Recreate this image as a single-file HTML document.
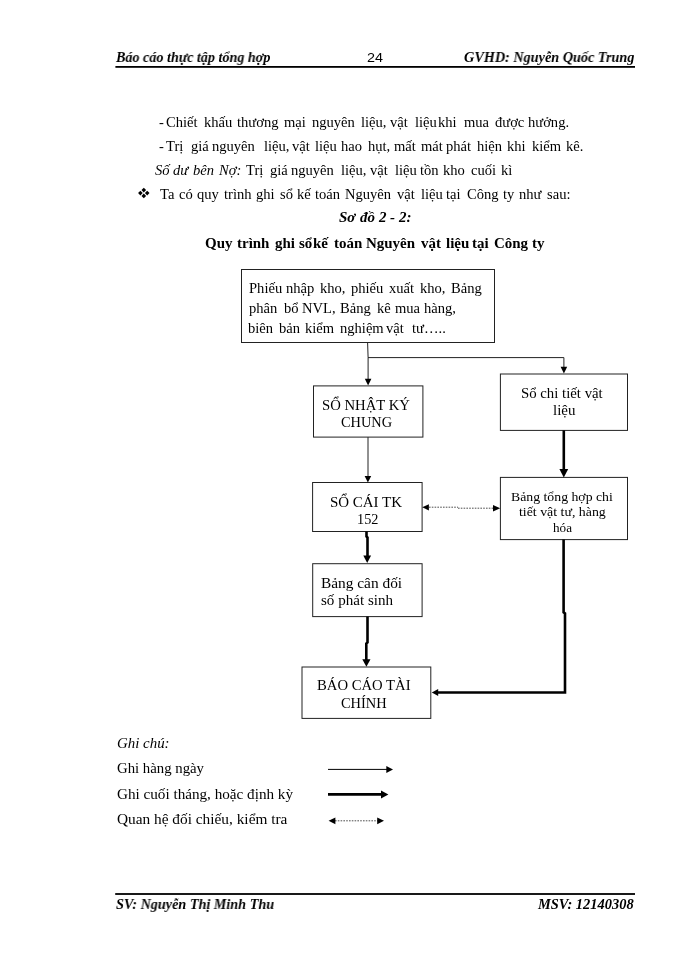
<!DOCTYPE html>
<html lang="vi"><head><meta charset="utf-8"><title>Báo cáo thực tập tổng hợp</title>
<style>
html,body{margin:0;padding:0;background:#fff;}
body{width:700px;height:960px;position:relative;overflow:hidden;color:#000;font-family:"Liberation Serif",serif;}
.t{position:absolute;transform-origin:0 0;will-change:transform;white-space:pre;line-height:24px;height:24px;color:#000;}
svg{position:absolute;left:0;top:0;}
</style></head><body>
<svg width="700" height="960" viewBox="0 0 700 960">
<!-- header / footer rules -->
<rect x="115.4" y="66" width="519.6" height="1.8" fill="#000"/>
<rect x="115.2" y="893.1" width="519.8" height="1.8" fill="#000"/>
<g fill="none" stroke="#222" stroke-width="1">
<!-- boxes -->
<rect x="241.5" y="269.5" width="253" height="73"/>
<rect x="313.5" y="385.9" width="109.4" height="51.2"/>
<rect x="500.4" y="374" width="127.1" height="56.4"/>
<rect x="312.6" y="482.5" width="109.5" height="49"/>
<rect x="500.4" y="477.4" width="127.1" height="62.2"/>
<rect x="312.7" y="563.7" width="109.4" height="52.9"/>
<rect x="302" y="667" width="128.8" height="51.4"/>
<!-- thin connectors -->
<path d="M367.6 342.5 L368.1 357.5 V380"/>
<path d="M368 357.6 H563.9 V368"/>
<path d="M368 437.1 V477"/>
</g>
<!-- thin arrowheads -->
<g fill="#000">
<path d="M364.8 378.8 h6.6 l-3.3 6.8z"/>
<path d="M560.6 366.7 h6.6 l-3.3 6.8z"/>
<path d="M364.6 476 h6.6 l-3.3 6.6z"/>
</g>
<!-- thick connectors -->
<g fill="none" stroke="#000" stroke-width="2.6">
<path d="M563.8 430.4 V470"/>
<path d="M366.5 531.5 V536.5 L367.5 537.5 V557"/>
<path d="M367.5 616.6 V642.5 L366.3 643.5 V660"/>
<path d="M563.6 539.6 V612.4 L565 613.4 V692.5 H437"/>
</g>
<g fill="#000">
<path d="M559.4 469.1 h8.8 l-4.4 8.3z"/>
<path d="M363.3 555.6 h7.8 l-3.9 7.5z"/>
<path d="M362.3 659.3 h8.2 l-4.1 7.4z"/>
<path d="M438.2 689 v7 l-6.4 -3.5z"/>
</g>
<!-- dotted double arrow -->
<path d="M429 507.2 H458 M458 508.2 H493" stroke="#222" stroke-opacity="0.8" stroke-width="1" stroke-dasharray="1.6 1.2" fill="none"/>
<g fill="#000">
<path d="M428.9 504.2 v6.2 l-6.7 -3.1z"/>
<path d="M493 505 v6.4 l7.2 -3.2z"/>
</g>
<!-- legend arrows -->
<path d="M328 769.4 H387" stroke="#000" stroke-width="1" fill="none"/>
<path d="M386.3 765.9 v7 l6.7 -3.5z" fill="#000"/>
<path d="M328 794.4 H382" stroke="#000" stroke-width="2.6" fill="none"/>
<path d="M381 790.5 v8 l7.4 -4z" fill="#000"/>
<path d="M335 820.8 H378" stroke="#222" stroke-opacity="0.8" stroke-width="1" stroke-dasharray="1.6 1.2" fill="none"/>
<path d="M335.4 817.4 v6.8 l-6.8 -3.4z" fill="#000"/>
<path d="M377.2 817.4 v6.8 l6.8 -3.4z" fill="#000"/>
<!-- bullet -->
<g fill="#000">
<path d="M143.8 187.8 l2.3 2.3 l-2.3 2.3 l-2.3 -2.3z"/>
<path d="M143.8 193.6 l2.3 2.3 l-2.3 2.3 l-2.3 -2.3z"/>
<path d="M140.4 190.8 l2.3 2.3 l-2.3 2.3 l-2.3 -2.3z"/>
<path d="M147.2 190.8 l2.3 2.3 l-2.3 2.3 l-2.3 -2.3z"/>
</g>
</svg>

<div class="t" style='left:116.3px;top:45.00px;font-family:"Liberation Serif", serif;font-size:14.4px;font-weight:bold;font-style:italic;letter-spacing:0.000px;word-spacing:0.000px;transform:scaleX(0.9805);'>Báo cáo thực tập tổng hợp</div>
<div class="t" style='left:367.0px;top:46.00px;font-family:"Liberation Sans", sans-serif;font-size:13.5px;letter-spacing:0.000px;transform:scaleX(1.0644);'>24</div>
<div class="t" style='left:464.4px;top:45.00px;font-family:"Liberation Serif", serif;font-size:14.4px;font-weight:bold;font-style:italic;letter-spacing:0.000px;word-spacing:0.000px;transform:scaleX(0.9880);'>GVHD: Nguyễn Quốc Trung</div>
<div class="t" style='left:322.0px;top:394.00px;font-family:"Liberation Serif", serif;font-size:14px;letter-spacing:0.000px;word-spacing:0.000px;transform:scaleX(1.0507);'>SỔ NHẬT KÝ</div>
<div class="t" style='left:341.0px;top:411.00px;font-family:"Liberation Serif", serif;font-size:14px;letter-spacing:0.000px;transform:scaleX(1.0245);'>CHUNG</div>
<div class="t" style='left:520.8px;top:382.00px;font-family:"Liberation Serif", serif;font-size:14px;letter-spacing:0.000px;word-spacing:0.000px;transform:scaleX(1.0557);'>Sổ chi tiết vật</div>
<div class="t" style='left:552.6px;top:399.00px;font-family:"Liberation Serif", serif;font-size:14px;letter-spacing:0.000px;transform:scaleX(1.0667);'>liệu</div>
<div class="t" style='left:330.0px;top:491.00px;font-family:"Liberation Serif", serif;font-size:14px;letter-spacing:0.000px;word-spacing:0.000px;transform:scaleX(1.0679);'>SỔ CÁI TK</div>
<div class="t" style='left:357.0px;top:508.00px;font-family:"Liberation Serif", serif;font-size:14px;letter-spacing:0.000px;transform:scaleX(1.0190);'>152</div>
<div class="t" style='left:511.2px;top:485.00px;font-family:"Liberation Serif", serif;font-size:13px;letter-spacing:-0.000px;word-spacing:-0.000px;transform:scaleX(1.0597);'>Bảng tổng hợp chi</div>
<div class="t" style='left:519.4px;top:500.00px;font-family:"Liberation Serif", serif;font-size:13px;letter-spacing:0.000px;word-spacing:0.000px;transform:scaleX(1.0661);'>tiết vật tư, hàng</div>
<div class="t" style='left:553.0px;top:516.00px;font-family:"Liberation Serif", serif;font-size:13px;letter-spacing:0.000px;transform:scaleX(1.0116);'>hóa</div>
<div class="t" style='left:320.9px;top:572.00px;font-family:"Liberation Serif", serif;font-size:14px;letter-spacing:0.000px;word-spacing:0.000px;transform:scaleX(1.0978);'>Bảng cân đối</div>
<div class="t" style='left:321.3px;top:589.00px;font-family:"Liberation Serif", serif;font-size:14px;letter-spacing:0.000px;word-spacing:0.000px;transform:scaleX(1.0764);'>số phát sinh</div>
<div class="t" style='left:317.2px;top:674.00px;font-family:"Liberation Serif", serif;font-size:14px;letter-spacing:0.000px;word-spacing:0.000px;transform:scaleX(1.0493);'>BÁO CÁO TÀI</div>
<div class="t" style='left:341.3px;top:692.00px;font-family:"Liberation Serif", serif;font-size:14px;letter-spacing:0.000px;transform:scaleX(1.0306);'>CHÍNH</div>
<div class="t" style='left:116.9px;top:732.00px;font-family:"Liberation Serif", serif;font-size:14px;font-style:italic;letter-spacing:0.000px;word-spacing:0.000px;transform:scaleX(1.0650);'>Ghi chú:</div>
<div class="t" style='left:117.0px;top:757.00px;font-family:"Liberation Serif", serif;font-size:14px;letter-spacing:0.000px;word-spacing:0.000px;transform:scaleX(1.0553);'>Ghi hàng ngày</div>
<div class="t" style='left:117.0px;top:783.00px;font-family:"Liberation Serif", serif;font-size:14px;letter-spacing:-0.000px;word-spacing:-0.000px;transform:scaleX(1.0829);'>Ghi cuối tháng, hoặc định kỳ</div>
<div class="t" style='left:117.0px;top:808.00px;font-family:"Liberation Serif", serif;font-size:14px;letter-spacing:0.000px;word-spacing:0.000px;transform:scaleX(1.0957);'>Quan hệ đối chiếu, kiểm tra</div>
<div class="t" style='left:116.3px;top:892.00px;font-family:"Liberation Serif", serif;font-size:14.4px;font-weight:bold;font-style:italic;letter-spacing:0.000px;word-spacing:0.000px;transform:scaleX(0.9851);'>SV: Nguyễn Thị Minh Thu</div>
<div class="t" style='left:538.0px;top:892.00px;font-family:"Liberation Serif", serif;font-size:14.4px;font-weight:bold;font-style:italic;letter-spacing:0.000px;word-spacing:0.000px;transform:scaleX(1.0033);'>MSV: 12140308</div>
<div class="t" style='left:159.2px;top:111.00px;font-family:"Liberation Serif", serif;font-size:14px;transform:scaleX(1.0400);'>-</div>
<div class="t" style='left:165.7px;top:111.00px;font-family:"Liberation Serif", serif;font-size:14px;transform:scaleX(1.0400);'>Chiết</div>
<div class="t" style='left:204.3px;top:111.00px;font-family:"Liberation Serif", serif;font-size:14px;transform:scaleX(1.0400);'>khấu</div>
<div class="t" style='left:237.3px;top:111.00px;font-family:"Liberation Serif", serif;font-size:14px;transform:scaleX(1.0400);'>thương</div>
<div class="t" style='left:283.8px;top:111.00px;font-family:"Liberation Serif", serif;font-size:14px;transform:scaleX(1.0400);'>mại</div>
<div class="t" style='left:311.8px;top:111.00px;font-family:"Liberation Serif", serif;font-size:14px;transform:scaleX(1.0400);'>nguyên</div>
<div class="t" style='left:361.4px;top:111.00px;font-family:"Liberation Serif", serif;font-size:14px;transform:scaleX(1.0400);'>liệu,</div>
<div class="t" style='left:390.2px;top:111.00px;font-family:"Liberation Serif", serif;font-size:14px;transform:scaleX(1.0400);'>vật</div>
<div class="t" style='left:415.3px;top:111.00px;font-family:"Liberation Serif", serif;font-size:14px;transform:scaleX(1.0400);'>liệu</div>
<div class="t" style='left:438.1px;top:111.00px;font-family:"Liberation Serif", serif;font-size:14px;transform:scaleX(1.0400);'>khi</div>
<div class="t" style='left:464.1px;top:111.00px;font-family:"Liberation Serif", serif;font-size:14px;transform:scaleX(1.0400);'>mua</div>
<div class="t" style='left:495.1px;top:111.00px;font-family:"Liberation Serif", serif;font-size:14px;transform:scaleX(1.0400);'>được</div>
<div class="t" style='left:527.9px;top:111.00px;font-family:"Liberation Serif", serif;font-size:14px;transform:scaleX(1.0400);'>hưởng.</div>
<div class="t" style='left:159.2px;top:135.00px;font-family:"Liberation Serif", serif;font-size:14px;transform:scaleX(1.0400);'>-</div>
<div class="t" style='left:166.4px;top:135.00px;font-family:"Liberation Serif", serif;font-size:14px;transform:scaleX(1.0400);'>Trị</div>
<div class="t" style='left:191.1px;top:135.00px;font-family:"Liberation Serif", serif;font-size:14px;transform:scaleX(1.0400);'>giá</div>
<div class="t" style='left:211.7px;top:135.00px;font-family:"Liberation Serif", serif;font-size:14px;transform:scaleX(1.0400);'>nguyên</div>
<div class="t" style='left:263.9px;top:135.00px;font-family:"Liberation Serif", serif;font-size:14px;transform:scaleX(1.0400);'>liệu,</div>
<div class="t" style='left:291.6px;top:135.00px;font-family:"Liberation Serif", serif;font-size:14px;transform:scaleX(1.0400);'>vật</div>
<div class="t" style='left:315.3px;top:135.00px;font-family:"Liberation Serif", serif;font-size:14px;transform:scaleX(1.0400);'>liệu</div>
<div class="t" style='left:341.3px;top:135.00px;font-family:"Liberation Serif", serif;font-size:14px;transform:scaleX(1.0400);'>hao</div>
<div class="t" style='left:367.6px;top:135.00px;font-family:"Liberation Serif", serif;font-size:14px;transform:scaleX(1.0400);'>hụt,</div>
<div class="t" style='left:394.1px;top:135.00px;font-family:"Liberation Serif", serif;font-size:14px;transform:scaleX(1.0400);'>mất</div>
<div class="t" style='left:421.3px;top:135.00px;font-family:"Liberation Serif", serif;font-size:14px;transform:scaleX(1.0400);'>mát</div>
<div class="t" style='left:446.2px;top:135.00px;font-family:"Liberation Serif", serif;font-size:14px;transform:scaleX(1.0400);'>phát</div>
<div class="t" style='left:477.2px;top:135.00px;font-family:"Liberation Serif", serif;font-size:14px;transform:scaleX(1.0400);'>hiện</div>
<div class="t" style='left:506.9px;top:135.00px;font-family:"Liberation Serif", serif;font-size:14px;transform:scaleX(1.0400);'>khi</div>
<div class="t" style='left:532.0px;top:135.00px;font-family:"Liberation Serif", serif;font-size:14px;transform:scaleX(1.0400);'>kiểm</div>
<div class="t" style='left:565.8px;top:135.00px;font-family:"Liberation Serif", serif;font-size:14px;transform:scaleX(1.0400);'>kê.</div>
<div class="t" style='left:155.0px;top:159.00px;font-family:"Liberation Serif", serif;font-size:14px;font-style:italic;transform:scaleX(1.0400);'>Số</div>
<div class="t" style='left:172.9px;top:159.00px;font-family:"Liberation Serif", serif;font-size:14px;font-style:italic;transform:scaleX(1.0400);'>dư</div>
<div class="t" style='left:192.9px;top:159.00px;font-family:"Liberation Serif", serif;font-size:14px;font-style:italic;transform:scaleX(1.0400);'>bên</div>
<div class="t" style='left:219.2px;top:159.00px;font-family:"Liberation Serif", serif;font-size:14px;font-style:italic;transform:scaleX(1.0400);'>Nợ:</div>
<div class="t" style='left:245.5px;top:159.00px;font-family:"Liberation Serif", serif;font-size:14px;transform:scaleX(1.0400);'>Trị</div>
<div class="t" style='left:269.9px;top:159.00px;font-family:"Liberation Serif", serif;font-size:14px;transform:scaleX(1.0400);'>giá</div>
<div class="t" style='left:291.1px;top:159.00px;font-family:"Liberation Serif", serif;font-size:14px;transform:scaleX(1.0400);'>nguyên</div>
<div class="t" style='left:341.0px;top:159.00px;font-family:"Liberation Serif", serif;font-size:14px;transform:scaleX(1.0400);'>liệu,</div>
<div class="t" style='left:370.2px;top:159.00px;font-family:"Liberation Serif", serif;font-size:14px;transform:scaleX(1.0400);'>vật</div>
<div class="t" style='left:395.1px;top:159.00px;font-family:"Liberation Serif", serif;font-size:14px;transform:scaleX(1.0400);'>liệu</div>
<div class="t" style='left:420.1px;top:159.00px;font-family:"Liberation Serif", serif;font-size:14px;transform:scaleX(1.0400);'>tồn</div>
<div class="t" style='left:443.1px;top:159.00px;font-family:"Liberation Serif", serif;font-size:14px;transform:scaleX(1.0400);'>kho</div>
<div class="t" style='left:471.2px;top:159.00px;font-family:"Liberation Serif", serif;font-size:14px;transform:scaleX(1.0400);'>cuối</div>
<div class="t" style='left:500.5px;top:159.00px;font-family:"Liberation Serif", serif;font-size:14px;transform:scaleX(1.0400);'>kì</div>
<div class="t" style='left:159.5px;top:183.00px;font-family:"Liberation Serif", serif;font-size:14px;transform:scaleX(1.0400);'>Ta</div>
<div class="t" style='left:179.4px;top:183.00px;font-family:"Liberation Serif", serif;font-size:14px;transform:scaleX(1.0400);'>có</div>
<div class="t" style='left:196.6px;top:183.00px;font-family:"Liberation Serif", serif;font-size:14px;transform:scaleX(1.0400);'>quy</div>
<div class="t" style='left:224.1px;top:183.00px;font-family:"Liberation Serif", serif;font-size:14px;transform:scaleX(1.0400);'>trình</div>
<div class="t" style='left:256.0px;top:183.00px;font-family:"Liberation Serif", serif;font-size:14px;transform:scaleX(1.0400);'>ghi</div>
<div class="t" style='left:279.8px;top:183.00px;font-family:"Liberation Serif", serif;font-size:14px;transform:scaleX(1.0400);'>sổ</div>
<div class="t" style='left:296.6px;top:183.00px;font-family:"Liberation Serif", serif;font-size:14px;transform:scaleX(1.0400);'>kế</div>
<div class="t" style='left:314.7px;top:183.00px;font-family:"Liberation Serif", serif;font-size:14px;transform:scaleX(1.0400);'>toán</div>
<div class="t" style='left:345.4px;top:183.00px;font-family:"Liberation Serif", serif;font-size:14px;transform:scaleX(1.0400);'>Nguyên</div>
<div class="t" style='left:396.8px;top:183.00px;font-family:"Liberation Serif", serif;font-size:14px;transform:scaleX(1.0400);'>vật</div>
<div class="t" style='left:421.2px;top:183.00px;font-family:"Liberation Serif", serif;font-size:14px;transform:scaleX(1.0400);'>liệu</div>
<div class="t" style='left:446.3px;top:183.00px;font-family:"Liberation Serif", serif;font-size:14px;transform:scaleX(1.0400);'>tại</div>
<div class="t" style='left:466.7px;top:183.00px;font-family:"Liberation Serif", serif;font-size:14px;transform:scaleX(1.0400);'>Công</div>
<div class="t" style='left:503.1px;top:183.00px;font-family:"Liberation Serif", serif;font-size:14px;transform:scaleX(1.0400);'>ty</div>
<div class="t" style='left:518.8px;top:183.00px;font-family:"Liberation Serif", serif;font-size:14px;transform:scaleX(1.0400);'>như</div>
<div class="t" style='left:547.0px;top:183.00px;font-family:"Liberation Serif", serif;font-size:14px;transform:scaleX(1.0400);'>sau:</div>
<div class="t" style='left:339.1px;top:205.00px;font-family:"Liberation Serif", serif;font-size:14.4px;font-weight:bold;font-style:italic;transform:scaleX(1.0400);'>Sơ</div>
<div class="t" style='left:359.5px;top:205.00px;font-family:"Liberation Serif", serif;font-size:14.4px;font-weight:bold;font-style:italic;transform:scaleX(1.0400);'>đồ</div>
<div class="t" style='left:379.1px;top:205.00px;font-family:"Liberation Serif", serif;font-size:14.4px;font-weight:bold;font-style:italic;transform:scaleX(1.0400);'>2</div>
<div class="t" style='left:390.3px;top:205.00px;font-family:"Liberation Serif", serif;font-size:14.4px;font-weight:bold;font-style:italic;transform:scaleX(1.0400);'>-</div>
<div class="t" style='left:399.0px;top:205.00px;font-family:"Liberation Serif", serif;font-size:14.4px;font-weight:bold;font-style:italic;transform:scaleX(1.0400);'>2:</div>
<div class="t" style='left:204.6px;top:231.00px;font-family:"Liberation Serif", serif;font-size:14.4px;font-weight:bold;transform:scaleX(1.0400);'>Quy</div>
<div class="t" style='left:237.3px;top:231.00px;font-family:"Liberation Serif", serif;font-size:14.4px;font-weight:bold;transform:scaleX(1.0400);'>trình</div>
<div class="t" style='left:274.5px;top:231.00px;font-family:"Liberation Serif", serif;font-size:14.4px;font-weight:bold;transform:scaleX(1.0400);'>ghi</div>
<div class="t" style='left:298.7px;top:231.00px;font-family:"Liberation Serif", serif;font-size:14.4px;font-weight:bold;transform:scaleX(1.0400);'>sổ</div>
<div class="t" style='left:312.8px;top:231.00px;font-family:"Liberation Serif", serif;font-size:14.4px;font-weight:bold;transform:scaleX(1.0400);'>kế</div>
<div class="t" style='left:333.7px;top:231.00px;font-family:"Liberation Serif", serif;font-size:14.4px;font-weight:bold;transform:scaleX(1.0400);'>toán</div>
<div class="t" style='left:366.4px;top:231.00px;font-family:"Liberation Serif", serif;font-size:14.4px;font-weight:bold;transform:scaleX(1.0400);'>Nguyên</div>
<div class="t" style='left:420.8px;top:231.00px;font-family:"Liberation Serif", serif;font-size:14.4px;font-weight:bold;transform:scaleX(1.0400);'>vật</div>
<div class="t" style='left:446.0px;top:231.00px;font-family:"Liberation Serif", serif;font-size:14.4px;font-weight:bold;transform:scaleX(1.0400);'>liệu</div>
<div class="t" style='left:471.7px;top:231.00px;font-family:"Liberation Serif", serif;font-size:14.4px;font-weight:bold;transform:scaleX(1.0400);'>tại</div>
<div class="t" style='left:493.8px;top:231.00px;font-family:"Liberation Serif", serif;font-size:14.4px;font-weight:bold;transform:scaleX(1.0400);'>Công</div>
<div class="t" style='left:532.0px;top:231.00px;font-family:"Liberation Serif", serif;font-size:14.4px;font-weight:bold;transform:scaleX(1.0400);'>ty</div>
<div class="t" style='left:249.1px;top:277.00px;font-family:"Liberation Serif", serif;font-size:14px;transform:scaleX(1.0400);'>Phiếu</div>
<div class="t" style='left:285.8px;top:277.00px;font-family:"Liberation Serif", serif;font-size:14px;transform:scaleX(1.0400);'>nhập</div>
<div class="t" style='left:319.6px;top:277.00px;font-family:"Liberation Serif", serif;font-size:14px;transform:scaleX(1.0400);'>kho,</div>
<div class="t" style='left:350.5px;top:277.00px;font-family:"Liberation Serif", serif;font-size:14px;transform:scaleX(1.0400);'>phiếu</div>
<div class="t" style='left:389.3px;top:277.00px;font-family:"Liberation Serif", serif;font-size:14px;transform:scaleX(1.0400);'>xuất</div>
<div class="t" style='left:420.2px;top:277.00px;font-family:"Liberation Serif", serif;font-size:14px;transform:scaleX(1.0400);'>kho,</div>
<div class="t" style='left:450.6px;top:277.00px;font-family:"Liberation Serif", serif;font-size:14px;transform:scaleX(1.0400);'>Bảng</div>
<div class="t" style='left:248.8px;top:297.00px;font-family:"Liberation Serif", serif;font-size:14px;transform:scaleX(1.0400);'>phân</div>
<div class="t" style='left:283.9px;top:297.00px;font-family:"Liberation Serif", serif;font-size:14px;transform:scaleX(1.0400);'>bổ</div>
<div class="t" style='left:302.0px;top:297.00px;font-family:"Liberation Serif", serif;font-size:14px;transform:scaleX(1.0400);'>NVL,</div>
<div class="t" style='left:339.9px;top:297.00px;font-family:"Liberation Serif", serif;font-size:14px;transform:scaleX(1.0400);'>Bảng</div>
<div class="t" style='left:377.1px;top:297.00px;font-family:"Liberation Serif", serif;font-size:14px;transform:scaleX(1.0400);'>kê</div>
<div class="t" style='left:395.2px;top:297.00px;font-family:"Liberation Serif", serif;font-size:14px;transform:scaleX(1.0400);'>mua</div>
<div class="t" style='left:424.2px;top:297.00px;font-family:"Liberation Serif", serif;font-size:14px;transform:scaleX(1.0400);'>hàng,</div>
<div class="t" style='left:247.8px;top:317.00px;font-family:"Liberation Serif", serif;font-size:14px;transform:scaleX(1.0400);'>biên</div>
<div class="t" style='left:279.0px;top:317.00px;font-family:"Liberation Serif", serif;font-size:14px;transform:scaleX(1.0400);'>bản</div>
<div class="t" style='left:304.9px;top:317.00px;font-family:"Liberation Serif", serif;font-size:14px;transform:scaleX(1.0400);'>kiểm</div>
<div class="t" style='left:339.5px;top:317.00px;font-family:"Liberation Serif", serif;font-size:14px;transform:scaleX(1.0400);'>nghiệm</div>
<div class="t" style='left:386.3px;top:317.00px;font-family:"Liberation Serif", serif;font-size:14px;transform:scaleX(1.0400);'>vật</div>
<div class="t" style='left:412.0px;top:317.00px;font-family:"Liberation Serif", serif;font-size:14px;transform:scaleX(1.0400);'>tư…..</div>
</body></html>
